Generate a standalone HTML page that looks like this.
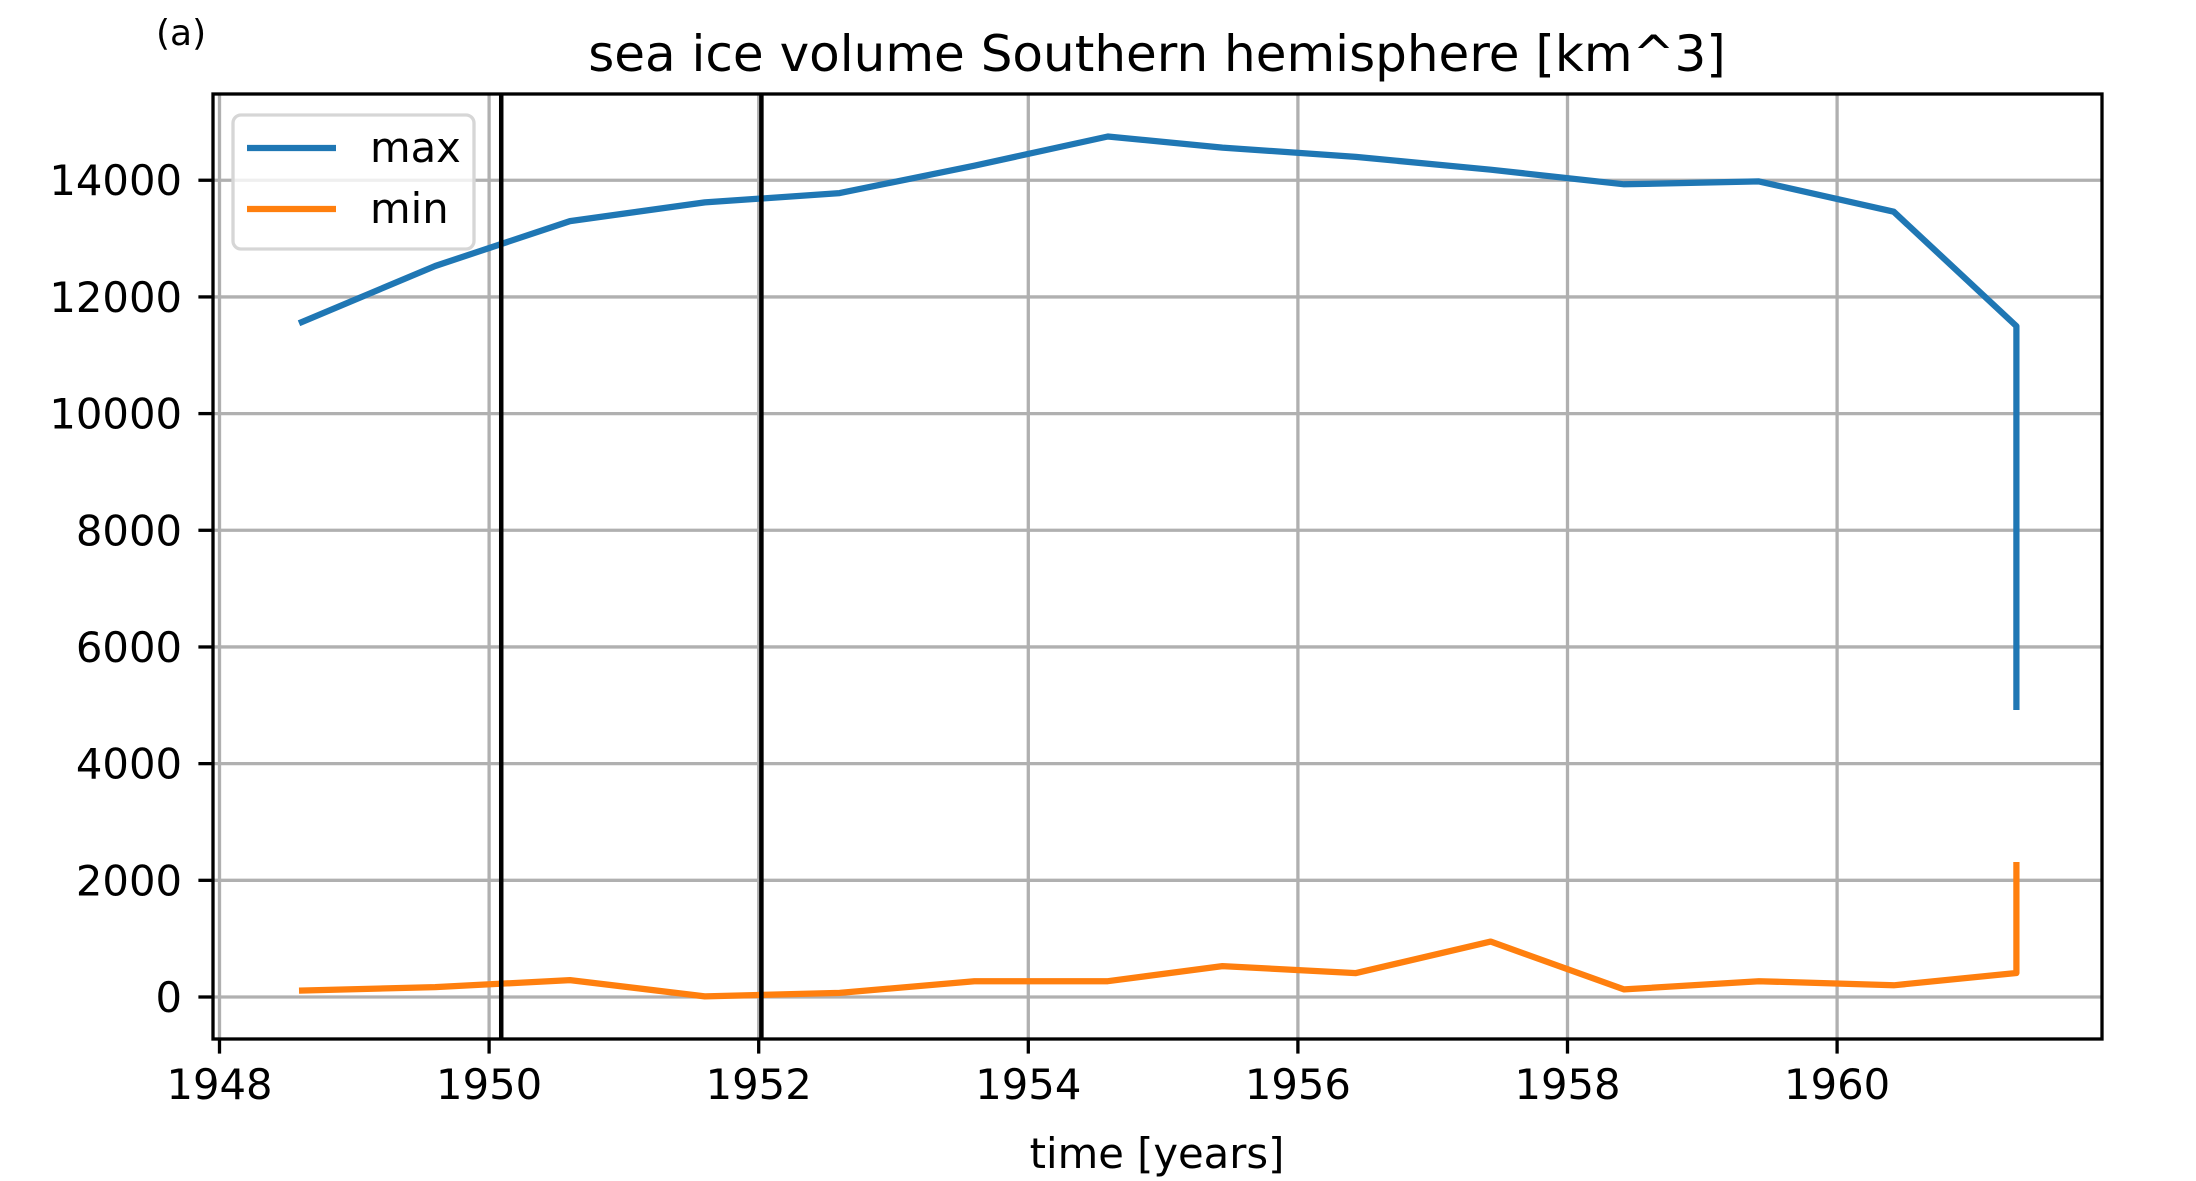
<!DOCTYPE html>
<html><head><meta charset="utf-8"><style>
html,body{margin:0;padding:0;background:#fff;}
svg{display:block;font-family:"DejaVu Sans","Liberation Sans",sans-serif;}
</style></head><body>
<svg id="chart" width="2196" height="1181" viewBox="0 0 2196 1181" xmlns="http://www.w3.org/2000/svg">
<rect width="2196" height="1181" fill="#fff"/>
<text x="156" y="45" font-size="36" fill="#000">(a)</text>
<text x="1157" y="71" font-size="50" text-anchor="middle" fill="#000">sea ice volume Southern hemisphere [km^3]</text>
<g id="grid"></g>
<g id="series"></g>
<g id="axes"></g>
<text x="1157" y="1168" font-size="41.7" text-anchor="middle" fill="#000">time [years]</text>
<g>
<rect x="233" y="115" width="241" height="134" rx="8" fill="#fff" fill-opacity="0.8" stroke="#d6d6d6" stroke-width="3.3"/>
<line x1="247" y1="148" x2="336" y2="148" stroke="#1f77b4" stroke-width="6.25"/>
<text x="370" y="162" font-size="41.7" fill="#000">max</text>
<line x1="247" y1="209" x2="336" y2="209" stroke="#ff7f0e" stroke-width="6.25"/>
<text x="370" y="223" font-size="41.7" fill="#000">min</text>
</g>
</svg>
<script>
const years = [1948.59,1949.6,1950.6,1951.6,1952.6,1953.6,1954.59,1955.44,1956.43,1957.43,1958.42,1959.42,1960.42,1961.33,1961.33];
const maxValues = [11550,12530,13300,13620,13780,14250,14750,14560,14400,14180,13930,13980,13460,11500,4920];
const minValues = [110,170,290,10,70,270,270,530,410,950,130,270,200,411,2314];
const xTickLabels = [1948,1950,1952,1954,1956,1958,1960];
const yTickLabels = [0,2000,4000,6000,8000,10000,12000,14000];
const eventYears = [1950.09,1952.02];

const L=213,R=2102,T=94,B=1039;
const xs = y => 219.5 + (y-1948)*134.8;
const ys = v => 997 - v*0.05834;
const NS='http://www.w3.org/2000/svg';
function mk(tag, attrs, parent){const e=document.createElementNS(NS,tag);for(const k in attrs)e.setAttribute(k,attrs[k]);parent.appendChild(e);return e;}
const grid=document.getElementById('grid'), series=document.getElementById('series'), axes=document.getElementById('axes');

xTickLabels.forEach(t=>{
  const g=mk('line',{x1:xs(t),x2:xs(t),y1:T,y2:B,stroke:'#b0b0b0','stroke-width':3.3},grid);
  
  
  const tk=mk('line',{x1:xs(t),x2:xs(t),y1:B,y2:B+14.6,stroke:'#000','stroke-width':3.3},axes);
  
  
  const tx=mk('text',{x:xs(t),y:1099,'font-size':41.7,'text-anchor':'middle',fill:'#000'},axes);
  tx.textContent=t;
  
  
});
yTickLabels.forEach(t=>{
  const g=mk('line',{x1:L,x2:R,y1:ys(t),y2:ys(t),stroke:'#b0b0b0','stroke-width':3.3},grid);
  
  
  const tk=mk('line',{x1:L-14.6,x2:L,y1:ys(t),y2:ys(t),stroke:'#000','stroke-width':3.3},axes);
  
  
  const tx=mk('text',{x:182,y:ys(t)+15,'font-size':41.7,'text-anchor':'end',fill:'#000'},axes);
  tx.textContent=t;
  
  
});
function line(vals,color,name){
  const p=years.map((y,i)=>xs(y).toFixed(1)+','+ys(vals[i]).toFixed(1)).join(' ');
  const e=mk('polyline',{points:p,fill:'none',stroke:color,'stroke-width':6.25,'stroke-linejoin':'round'},series);
  
  
}
line(maxValues,'#1f77b4','max-line');
line(minValues,'#ff7f0e','min-line');
eventYears.forEach((y,i)=>{
  const e=mk('line',{x1:xs(y),x2:xs(y),y1:T,y2:B,stroke:'#000','stroke-width':4.5},series);
  
  
});
const fr=mk('rect',{x:L,y:T,width:R-L,height:B-T,fill:'none',stroke:'#000','stroke-width':3.3},axes);


</script>
</body></html>
